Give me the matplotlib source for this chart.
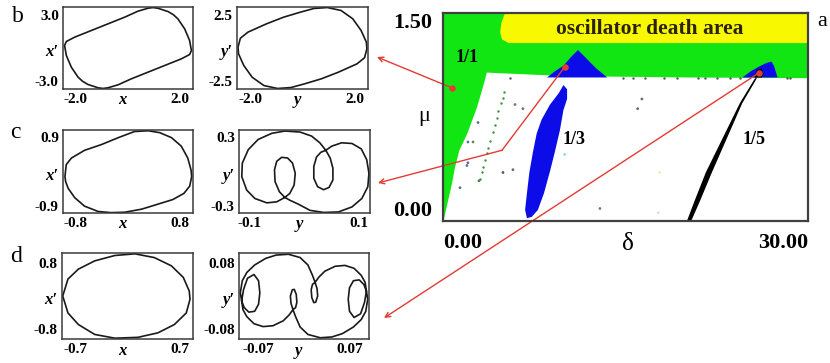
import matplotlib
matplotlib.use('Agg')
import matplotlib.pyplot as plt
from matplotlib.patches import Polygon
import numpy as np

plt.rcParams['font.family'] = ['Liberation Serif', 'DejaVu Serif']

RED = '#e23b33'
INK = '#1a1a1a'
GREEN = '#12e612'
YELLOW = '#f8f800'
BLUE = '#0c0ce8'

# ---------------- panel b: 1/1 state ----------------
b_x = [-2.44, -2.37, -2.05, -1.41, -0.77, -0.13, 0.38, 0.77, 0.96, 1.15, 1.54, 1.75, 1.92, 2.18, 2.37, 2.44,
       2.37, 2.05, 1.41, 0.77, 0.13, -0.38, -0.77, -0.96, -1.15, -1.54, -1.75, -1.92, -2.18, -2.37]
b_xd = [0.23, 0.59, 0.98, 1.58, 2.18, 2.78, 3.32, 3.59, 3.65, 3.59, 3.29, 3.0, 2.63, 1.73, 0.68, -0.23,
        -0.59, -0.98, -1.58, -2.18, -2.78, -3.32, -3.59, -3.65, -3.59, -3.29, -3.0, -2.63, -1.73, -0.68]

b_y = [-2.46, -2.37, -2.08, -1.37, -0.72, -0.08, 0.44, 0.95, 1.47, 1.92, 2.24, 2.44, 2.46,
       2.37, 2.08, 1.37, 0.72, 0.08, -0.44, -0.95, -1.47, -1.92, -2.24, -2.44]
b_yd = [0.06, 0.74, 1.20, 1.83, 2.33, 2.71, 2.99, 3.06, 2.84, 2.21, 1.32, 0.44, -0.06,
        -0.74, -1.20, -1.83, -2.33, -2.71, -2.99, -3.06, -2.84, -2.21, -1.32, -0.44]

# ---------------- panel c: 1/3 state ----------------
c_x = [-0.97, -0.95, -0.87, -0.67, -0.41, -0.15, 0.10, 0.31, 0.49, 0.67, 0.82, 0.92, 0.97, 0.98,
       0.95, 0.86, 0.69, 0.46, 0.21, -0.05, -0.26, -0.46, -0.67, -0.82, -0.92, -0.96]
c_xd = [-0.13, 0.18, 0.35, 0.55, 0.70, 0.88, 1.04, 1.06, 1.01, 0.88, 0.66, 0.35, 0.04, -0.13,
        -0.38, -0.57, -0.73, -0.85, -0.98, -1.06, -1.07, -1.04, -0.90, -0.68, -0.44, -0.26]

c_y = [0.039, 0.047, 0.052, 0.052, 0.045, 0.035, 0.024, 0.017, 0.017, 0.022, 0.030, 0.039,
       0.050, 0.068, 0.087, 0.104, 0.114, 0.118, 0.116, 0.105, 0.087, 0.062, 0.035, 0.010,
       -0.011, -0.027, -0.036, -0.046, -0.054, -0.055, -0.051, -0.042, -0.031, -0.022,
       -0.017, -0.019, -0.027, -0.036, -0.051, -0.069, -0.091, -0.106, -0.115, -0.114,
       -0.103, -0.085, -0.060, -0.036, -0.008, 0.013, 0.028]
c_yd = [0.184, 0.117, 0.029, -0.073, -0.138, -0.158, -0.132, -0.059, 0.044, 0.126, 0.167, 0.184,
        0.220, 0.249, 0.243, 0.196, 0.102, -0.015, -0.132, -0.234, -0.307, -0.351, -0.355, -0.337,
        -0.284, -0.249, -0.225, -0.176, -0.088, 0.015, 0.088, 0.123, 0.117, 0.073,
        -0.015, -0.117, -0.190, -0.225, -0.263, -0.272, -0.234, -0.161, -0.044, 0.073,
        0.190, 0.278, 0.331, 0.351, 0.342, 0.307, 0.249]

# ---------------- panel d: 1/5 state ----------------
d_x = [-0.87, -0.80, -0.66, -0.44, -0.17, 0.10, 0.36, 0.59, 0.75, 0.83, 0.84, 0.79, 0.63, 0.41,
       0.14, -0.17, -0.44, -0.66, -0.80]
d_xd = [0.0, 0.41, 0.65, 0.85, 0.98, 1.02, 0.93, 0.73, 0.45, 0.12, -0.08, -0.41, -0.69, -0.89,
        -1.00, -1.02, -0.93, -0.69, -0.41]

d_y = [-0.024, -0.006, 0.006, 0.013, 0.017, 0.020, 0.021, 0.018, 0.015, 0.012, 0.011, 0.013, 0.017,
       0.023, 0.032, 0.048, 0.063, 0.077, 0.088, 0.094, 0.096, 0.093, 0.087, 0.077, 0.070, 0.068,
       0.070, 0.076, 0.085, 0.092, 0.096, 0.098, 0.095, 0.088, 0.076, 0.059, 0.043, 0.025,
       0.006, -0.006, -0.013, -0.017, -0.020, -0.021, -0.018, -0.015, -0.012, -0.011, -0.013,
       -0.017, -0.023, -0.032, -0.048, -0.063, -0.077, -0.088, -0.094, -0.096, -0.093, -0.087,
       -0.077, -0.070, -0.068, -0.070, -0.076, -0.085, -0.092, -0.096, -0.098, -0.095, -0.088,
       -0.076, -0.059, -0.043]
d_yd = [0.101, 0.093, 0.075, 0.050, 0.033, 0.018, 0.000, -0.015, -0.016, -0.004, 0.015, 0.028, 0.033,
        0.046, 0.060, 0.072, 0.074, 0.067, 0.050, 0.033, 0.012, -0.016, -0.043, -0.052, -0.037, -0.008,
        0.020, 0.037, 0.039, 0.028, 0.012, -0.008, -0.037, -0.057, -0.075, -0.091, -0.099, -0.101,
        -0.093, -0.075, -0.050, -0.033, -0.018, 0.000, 0.015, 0.016, 0.004, -0.015, -0.028,
        -0.033, -0.046, -0.060, -0.072, -0.074, -0.067, -0.050, -0.033, -0.012, 0.016, 0.043,
        0.052, 0.037, 0.008, -0.020, -0.037, -0.039, -0.028, -0.012, 0.008, 0.037, 0.057,
        0.075, 0.091, 0.099]

# ---------------- panel a: (delta, mu) plane ----------------
white_delta = [3.6, 10.0, 20.0, 30.0, 30.0, 0.05, 0.15, 0.3, 0.74, 1.0, 1.35, 2.0, 2.8, 3.4]
white_mu = [1.07, 1.045, 1.035, 1.03, 0.0, 0.0, 0.04, 0.10, 0.27, 0.39, 0.51, 0.63, 0.82, 1.0]

death_delta = [5.1, 4.8, 4.7, 4.85, 5.4, 30.0, 30.0]
death_mu = [1.5, 1.43, 1.36, 1.31, 1.283, 1.283, 1.5]

peak3_delta = [8.55, 9.2, 9.9, 10.6, 11.1, 11.7, 12.6, 13.5]
peak3_mu = [1.035, 1.08, 1.12, 1.19, 1.233, 1.18, 1.10, 1.035]

tongue3_delta = [6.9, 6.75, 6.9, 7.1, 7.4, 7.7, 8.1, 8.8, 9.5, 9.9,
                 10.2, 10.2, 9.9, 9.6, 9.2, 8.8, 8.3, 7.8, 7.3]
tongue3_mu = [0.02, 0.08, 0.2, 0.35, 0.5, 0.63, 0.73, 0.84, 0.92, 0.98,
              0.95, 0.88, 0.8, 0.65, 0.5, 0.36, 0.2, 0.08, 0.03]

peak5_delta = [24.6, 25.3, 26.0, 26.6, 27.0, 27.2, 27.5]
peak5_mu = [1.035, 1.08, 1.115, 1.14, 1.15, 1.12, 1.035]

blob5_delta = [25.6, 25.8, 26.2, 26.35, 26.2]
blob5_mu = [1.035, 1.09, 1.10, 1.06, 1.035]

band5_delta = [20.05, 20.7, 21.6, 23.0, 24.4, 25.65, 25.8, 24.6, 23.35, 22.1, 21.15, 20.4]
band5_mu = [0.0, 0.15, 0.35, 0.6, 0.85, 1.03, 1.03, 0.85, 0.6, 0.35, 0.15, 0.0]

chain_delta = [5.01, 4.93, 4.77, 4.52, 4.44, 4.27, 4.11, 3.86, 3.70, 3.62, 3.45, 3.29, 3.20, 3.04]
chain_mu = [0.93, 0.89, 0.85, 0.79, 0.74, 0.69, 0.64, 0.58, 0.53, 0.49, 0.44, 0.39, 0.35, 0.30]

stray_delta = [2.88, 2.05, 2.47, 2.05, 1.40, 5.92, 6.57, 16.35, 16.0, 10.0, 4.93, 5.75, 1.97, 2.96, 12.9, 17.7, 17.8]
stray_mu = [0.71, 0.57, 0.57, 0.42, 0.24, 0.84, 0.81, 0.88, 0.81, 0.48, 0.35, 0.37, 0.40, 0.29, 0.09, 0.06, 0.35]
stray_color = ['#5b6f9c', '#5b6f9c', '#6a806a', '#5b6f9c', '#5b6f9c', '#6a7a8a', '#6a7a6a', '#6a6a7a',
               '#6a6a7a', '#8fd6f0', '#555566', '#666677', '#5b6f9c', '#4f7f4f', '#777788', '#cfe6ea', '#eeeeaa']

edge_delta = [5.5, 14.8, 15.6, 16.6, 18.2, 19.2, 21.0, 21.5, 22.5, 23.6, 24.4, 28.3, 28.5]
edge_mu = [1.03] * len(edge_delta)

marked_delta = [0.74, 10.0, 26.0]
marked_mu = [0.96, 1.11, 1.07]

fig = plt.figure(figsize=(8.3, 3.63), dpi=100)


def phase_panel(rect, xs, ys, lim_x, lim_y, xticks, xlabels, yticks, ylabels, xname, yname):
    ax = fig.add_axes(rect)
    ax.add_patch(Polygon(np.column_stack([xs, ys]), closed=True, fill=False,
                         ec=INK, lw=1.2, joinstyle='round'))
    ax.set_xlim(-lim_x, lim_x)
    ax.set_ylim(-lim_y, lim_y)
    ax.set_xticks(xticks, xlabels, fontsize=11, fontweight='bold')
    ax.set_yticks(yticks, ylabels, fontsize=11, fontweight='bold')
    ax.tick_params(length=0, pad=3)
    for s in ax.spines.values():
        s.set_color('#3a3a3a')
        s.set_linewidth(1.1)
    ax.text(0.46, -0.135, xname, transform=ax.transAxes, ha='center', va='center',
            fontsize=12, fontstyle='italic', fontweight='bold')
    ax.text(-0.035, 0.45, yname, transform=ax.transAxes, ha='right', va='center',
            fontsize=12, fontstyle='italic', fontweight='bold')
    return ax


phase_panel([0.0759, 0.7548, 0.1566, 0.2259], b_x, b_xd, 2.5, 3.7,
            [-2.0, 2.0], ['-2.0', '2.0'], [-3.0, 3.0], ['-3.0', '3.0'], 'x', 'x\u2032')
phase_panel([0.2855, 0.7548, 0.1578, 0.2259], b_y, b_yd, 2.5, 3.1,
            [-2.0, 2.0], ['-2.0', '2.0'], [-2.5, 2.5], ['-2.5', '2.5'], 'y', 'y\u2032')
phase_panel([0.0759, 0.4132, 0.1566, 0.2287], c_x, c_xd, 1.0, 1.08,
            [-0.8, 0.8], ['-0.8', '0.8'], [-0.9, 0.9], ['-0.9', '0.9'], 'x', 'x\u2032')
phase_panel([0.2880, 0.4132, 0.1578, 0.2287], c_y, c_yd, 0.12, 0.36,
            [-0.1, 0.1], ['-0.1', '0.1'], [-0.3, 0.3], ['-0.3', '0.3'], 'y', 'y\u2032')
phase_panel([0.0747, 0.0661, 0.1578, 0.2369], d_x, d_xd, 0.88, 1.04,
            [-0.7, 0.7], ['-0.7', '0.7'], [-0.8, 0.8], ['-0.8', '0.8'], 'x', 'x\u2032')
phase_panel([0.2880, 0.0661, 0.1566, 0.2369], d_y, d_yd, 0.1, 0.104,
            [-0.07, 0.07], ['-0.07', '0.07'], [-0.08, 0.08], ['-0.08', '0.08'], 'y', 'y\u2032')

for letter, fx, fy in [('b', 18, 17), ('c', 15, 133), ('d', 16, 257)]:
    fig.text(fx / 830, 1 - fy / 363, letter, fontsize=17, ha='center', va='center')

# ---------------- main panel ----------------
ax = fig.add_axes([0.5337, 0.3912, 0.4398, 0.5730])
ax.set_xlim(0, 30)
ax.set_ylim(0, 1.5)
ax.add_patch(Polygon([(0, 0), (30, 0), (30, 1.5), (0, 1.5)], closed=True, fc=GREEN, ec='none', zorder=0))
ax.add_patch(Polygon(np.column_stack([white_delta, white_mu]), closed=True, fc='white', ec='none', zorder=1))
ax.add_patch(Polygon(np.column_stack([death_delta, death_mu]), closed=True, fc=YELLOW, ec='none', zorder=1))
ax.add_patch(Polygon(np.column_stack([peak3_delta, peak3_mu]), closed=True, fc=BLUE, ec='none', zorder=2))
ax.add_patch(Polygon(np.column_stack([tongue3_delta, tongue3_mu]), closed=True, fc=BLUE, ec='none', zorder=2))
ax.add_patch(Polygon(np.column_stack([peak5_delta, peak5_mu]), closed=True, fc=BLUE, ec='none', zorder=2))
ax.add_patch(Polygon(np.column_stack([blob5_delta, blob5_mu]), closed=True, fc='black', ec='none', zorder=3))
ax.add_patch(Polygon(np.column_stack([band5_delta, band5_mu]), closed=True, fc='black', ec='none', zorder=3))

ax.scatter(chain_delta, chain_mu, s=3, color='#3f8f3f', zorder=3, linewidths=0)
ax.scatter(stray_delta, stray_mu, s=4, color=stray_color, zorder=3, linewidths=0)
ax.scatter(edge_delta, edge_mu, s=3, color='#505a50', zorder=3, linewidths=0)

ax.set_xticks([0, 30], ['0.00', '30.00'], fontsize=16, fontweight='bold')
ax.set_yticks([0, 1.5], ['0.00', '1.50'], fontsize=16, fontweight='bold')
ax.tick_params(axis='x', length=0, pad=9)
ax.tick_params(axis='y', length=0, pad=8)
xl = ax.get_xticklabels()
xl[0].set_ha('left')
xl[1].set_ha('right')
yl = ax.get_yticklabels()
yl[0].set_va('bottom')
yl[1].set_va('top')
for s in ax.spines.values():
    s.set_color('#404040')
    s.set_linewidth(1.6)
    s.set_zorder(6)

ax.text(0.507, -0.11, '\u03b4', transform=ax.transAxes, ha='center', va='center', fontsize=18)
ax.text(-0.052, 0.5, '\u03bc', transform=ax.transAxes, ha='center', va='center', fontsize=16)
ax.text(17.0, 1.385, 'oscillator death area', ha='center', va='center', fontsize=15.5,
        fontweight='bold', color='#2a2200', zorder=4)
ax.text(2.0, 1.18, '1/1', ha='center', va='center', fontsize=13, fontweight='bold', zorder=4)
ax.text(10.8, 0.59, '1/3', ha='center', va='center', fontsize=13, fontweight='bold', zorder=4)
ax.text(25.55, 0.59, '1/5', ha='center', va='center', fontsize=13, fontweight='bold', zorder=4)
fig.text(822 / 830, 1 - 21 / 363, 'a', fontsize=16, ha='center', va='center')

# red pointers from the marked states to the phase portraits
arrow_style = dict(arrowstyle='->', color=RED, lw=1.0, shrinkA=0, shrinkB=0, mutation_scale=9)
ax.annotate('', xy=(377 / 830, 1 - 57 / 363), xycoords='figure fraction',
            xytext=(marked_delta[0], marked_mu[0]), textcoords='data', arrowprops=arrow_style, zorder=5)
ax.plot([marked_delta[1], 4.85], [marked_mu[1], 0.51], color=RED, lw=1.0, zorder=5, clip_on=False)
ax.annotate('', xy=(378 / 830, 1 - 183 / 363), xycoords='figure fraction',
            xytext=(4.85, 0.51), textcoords='data', arrowprops=arrow_style, zorder=5)
ax.annotate('', xy=(384 / 830, 1 - 318 / 363), xycoords='figure fraction',
            xytext=(marked_delta[2], marked_mu[2]), textcoords='data', arrowprops=arrow_style, zorder=5)
ax.scatter(marked_delta, marked_mu, s=22, color=RED, zorder=6, linewidths=0, clip_on=False)

fig.savefig('out.png', dpi=100)
